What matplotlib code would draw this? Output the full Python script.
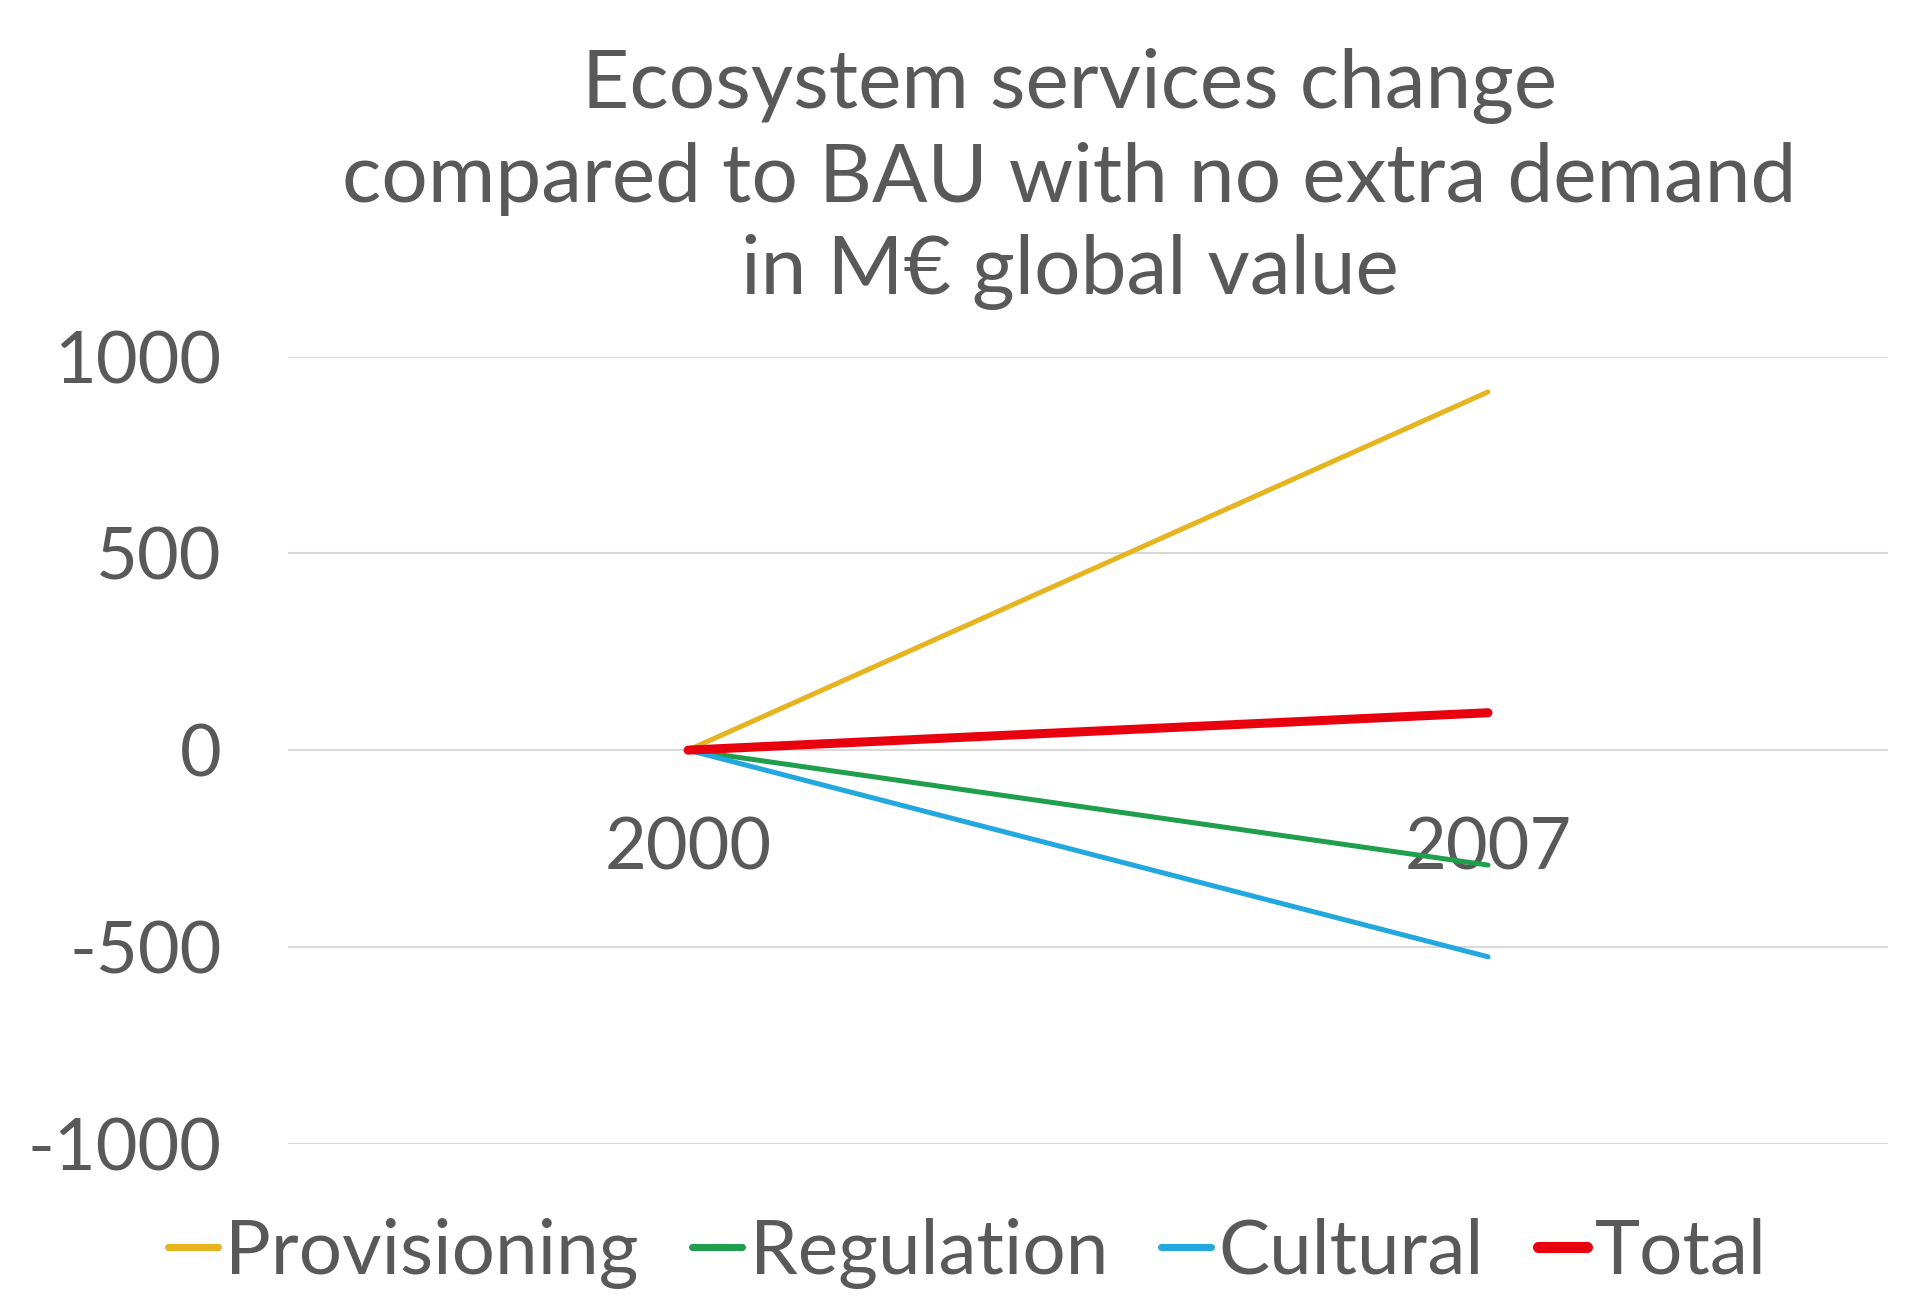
import matplotlib

matplotlib.use("Agg")
import matplotlib.pyplot as plt

years = ["2000", "2007"]
provisioning = [0, 910]
regulation = [0, -292]
cultural = [0, -525]
total = [0, 95]

series = [
    ("Provisioning", provisioning, "#E6B41E", 3.6),
    ("Regulation", regulation, "#1F9E4C", 3.6),
    ("Cultural", cultural, "#22A7DF", 3.6),
    ("Total", total, "#E8000E", 6.5),
]

grey = "#595959"
plt.rcParams["font.family"] = ["Lato", "DejaVu Sans"]
plt.rcParams["axes.unicode_minus"] = False

fig = plt.figure(figsize=(19.08, 13.03), dpi=100)
ax = fig.add_axes([0.151, 0.1222, 0.8385, 0.6042])

x = list(range(len(years)))
for name, vals, color, lw in series:
    ax.plot(x, vals, color=color, lw=lw, label=name, solid_capstyle="round", zorder=3)

ax.set_xlim(-0.5, len(years) - 0.5)
ax.set_ylim(-1000, 1000)
ax.set_yticks([-1000, -500, 0, 500, 1000])
ax.set_xticks(x)
ax.set_xticklabels(years)
ax.grid(axis="y", color="#D9D9D9", lw=1.5, zorder=0)
for s in ax.spines.values():
    s.set_visible(False)
ax.spines["bottom"].set_position(("data", 0))
ax.tick_params(axis="both", length=0, labelsize=52, labelcolor=grey)
ax.tick_params(axis="y", pad=48)
ax.tick_params(axis="x", pad=48)

fig.text(0.5605, 0.8626, "Ecosystem services change\ncompared to BAU with no extra demand\nin M€ global value",
         ha="center", va="center", fontsize=59, color=grey, linespacing=1.3)

leg = fig.legend(loc="center", bbox_to_anchor=(0.507, 0.038), ncol=4, frameon=False,
                 fontsize=55, labelcolor=grey, handlelength=0.65, handletextpad=0.1,
                 columnspacing=0.7)
for h in leg.get_lines():
    h.set_linewidth(h.get_linewidth() + 1.5)

fig.savefig("out.png", dpi=100, facecolor="white")
